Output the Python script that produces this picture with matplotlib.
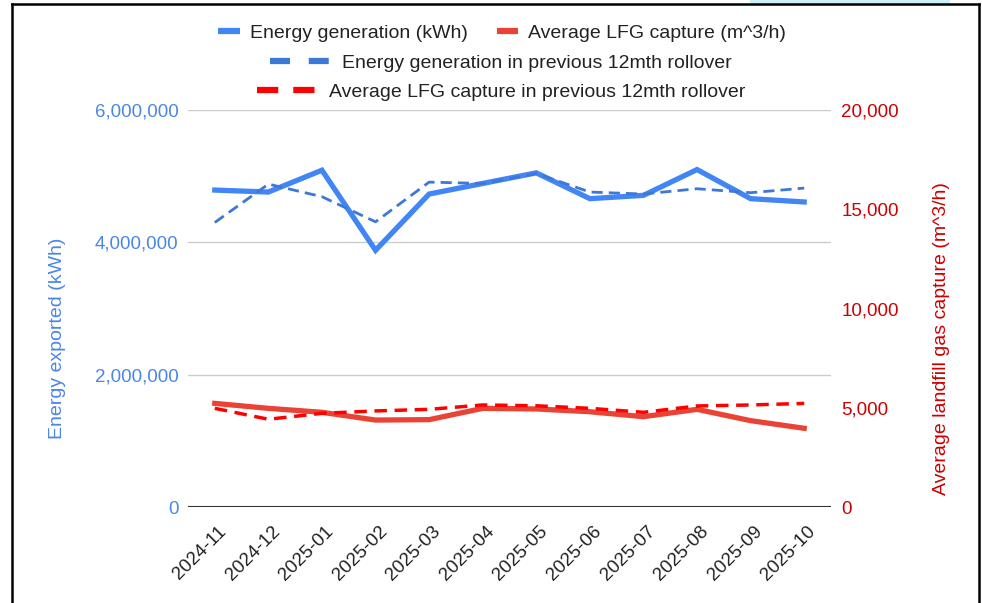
import matplotlib
matplotlib.use("Agg")
import matplotlib.pyplot as plt
import matplotlib.transforms as mtransforms
from matplotlib.lines import Line2D
from matplotlib.patches import Rectangle
from matplotlib.ticker import FuncFormatter, FixedLocator

plt.rcParams['font.family'] = ['Liberation Sans', 'DejaVu Sans']

months = ['2024-11', '2024-12', '2025-01', '2025-02', '2025-03', '2025-04',
          '2025-05', '2025-06', '2025-07', '2025-08', '2025-09', '2025-10']
energy = [4.79e6, 4.76e6, 5.09e6, 3.88e6, 4.73e6, 4.89e6,
          5.05e6, 4.66e6, 4.71e6, 5.10e6, 4.66e6, 4.61e6]
energy_prev = [4.30e6, 4.88e6, 4.69e6, 4.31e6, 4.91e6, 4.89e6,
               5.04e6, 4.76e6, 4.73e6, 4.81e6, 4.75e6, 4.82e6]
lfg = [5220, 4970, 4770, 4380, 4400, 4970, 4940, 4800, 4550, 4920, 4350, 3965]
lfg_prev = [4970, 4420, 4720, 4840, 4920, 5140, 5100, 4970, 4770, 5090, 5140, 5220]
left_ticks = [0, 2000000, 4000000, 6000000]
right_ticks = [0, 5000, 10000, 15000, 20000]

W, H = 982, 603
fig = plt.figure(figsize=(W / 100, H / 100), dpi=100)

C_BLUE = '#4285F4'
C_BLUE_D = '#3C78D8'
C_RED = '#EA4335'
C_RED_D = '#FF0000'
C_LBL_L = '#4A86E8'
C_LBL_R = '#CC0000'
FS = 13.5

ax = fig.add_axes([188 / W, 1 - 507 / H, (831 - 188) / W, (507 - 110) / H])
ax2 = ax.twinx()

x = list(range(len(months)))
ax.plot(x, energy, color=C_BLUE, lw=3.8, solid_joinstyle='miter', zorder=4)
ax.plot(x, energy_prev, color=C_BLUE_D, lw=2.0, dashes=(4, 2.2), zorder=5)
ax2.plot(x, lfg, color=C_RED, lw=3.8, solid_joinstyle='miter', zorder=4)
ax2.plot(x, lfg_prev, color=C_RED_D, lw=2.5, dashes=(3.6, 2.2), zorder=5)

ax.set_xlim(-0.5, len(months) - 0.5)
ax.set_ylim(0, 6000000)
ax2.set_ylim(0, 20000)
ax.yaxis.set_major_locator(FixedLocator(left_ticks))
ax2.yaxis.set_major_locator(FixedLocator(right_ticks))
ax.yaxis.set_major_formatter(FuncFormatter(lambda v, p: f"{int(v):,}"))
ax2.yaxis.set_major_formatter(FuncFormatter(lambda v, p: f"{int(v):,}"))

for a in (ax, ax2):
    for s in a.spines.values():
        s.set_visible(False)

for t in left_ticks[1:]:
    ax.axhline(t, color='#CCCCCC', lw=1.0, zorder=1)
ax.axhline(0, color='#333333', lw=1.5, zorder=6)

ax.tick_params(axis='y', length=0, pad=7, labelsize=FS, labelcolor=C_LBL_L)
ax2.tick_params(axis='y', length=0, pad=7.5, labelsize=FS, labelcolor=C_LBL_R)

ax.set_xticks(x)
ax.set_xticklabels(months)
ax.tick_params(axis='x', length=0, pad=16, labelsize=FS, labelcolor='#222222')
offset = mtransforms.ScaledTranslation(9 / 100, 0, fig.dpi_scale_trans)
for lab in ax.get_xticklabels():
    lab.set_rotation(45)
    lab.set_ha('right')
    lab.set_va('center')
    lab.set_rotation_mode('anchor')
    lab.set_transform(lab.get_transform() + offset)

ax.set_ylabel('Energy exported (kWh)', color=C_LBL_L, fontsize=14)
ax.yaxis.set_label_coords((66 - 188) / 643, 0.425)
ax2.set_ylabel('Average landfill gas capture (m^3/h)', color=C_LBL_R, fontsize=14, rotation=90)
ax2.yaxis.set_label_coords((933 - 188) / 643, 0.425)

# Legend
h_solid_b = Line2D([], [], color=C_BLUE, lw=4.5, solid_capstyle='butt')
h_solid_r = Line2D([], [], color=C_RED, lw=4.5, solid_capstyle='butt')
h_dash_b = Line2D([], [], color=C_BLUE_D, lw=4.5, dashes=(3.2, 3.0), dash_capstyle='butt')
h_dash_r = Line2D([], [], color=C_RED_D, lw=4.5, dashes=(3.4, 2.4), dash_capstyle='butt')

common = dict(frameon=False, fontsize=FS + 0.5, loc='center', handletextpad=0.5,
              borderpad=0, borderaxespad=0, labelcolor='#222222')
leg1 = fig.legend([h_solid_b, h_solid_r],
                  ['Energy generation (kWh)', 'Average LFG capture (m^3/h)'],
                  ncol=2, handlelength=1.1, columnspacing=1.5,
                  bbox_to_anchor=(502 / W, 1 - 33 / H), **common)
leg2 = fig.legend([h_dash_b], ['Energy generation in previous 12mth rollover'],
                  handlelength=3.2, bbox_to_anchor=(501 / W, 1 - 63 / H), **common)
leg3 = fig.legend([h_dash_r], ['Average LFG capture in previous 12mth rollover'],
                  handlelength=3.2, bbox_to_anchor=(501 / W, 1 - 92 / H), **common)

# Screenshot frame and strip
fig.add_artist(Rectangle((750 / W, 1 - 3.5 / H), 200 / W, 3.5 / H, transform=fig.transFigure,
                         facecolor='#CDEFF6', edgecolor='none'))
fig.add_artist(Line2D([11.5 / W, 11.5 / W], [0, 1 - 4 / H], transform=fig.transFigure,
                      color='black', lw=1.8))
fig.add_artist(Line2D([979 / W, 979 / W], [0, 1 - 4 / H], transform=fig.transFigure,
                      color='black', lw=1.8))
fig.add_artist(Line2D([11.5 / W, 979 / W], [1 - 4 / H, 1 - 4 / H], transform=fig.transFigure,
                      color='black', lw=1.8))

fig.savefig('out.png', dpi=100)
